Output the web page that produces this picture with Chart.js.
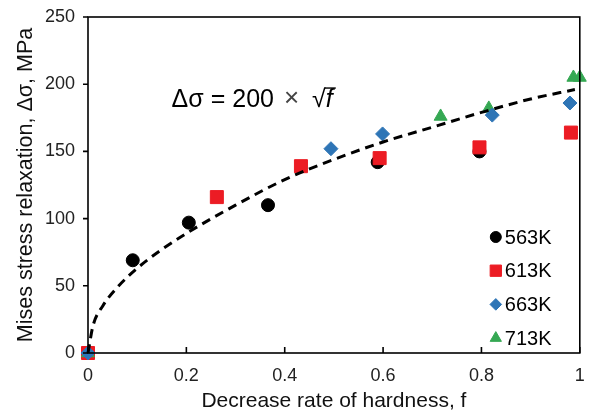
<!DOCTYPE html>
<html>
<head>
<meta charset="utf-8">
<script src="https://cdn.jsdelivr.net/npm/chart.js@4"></script>
<style>
  html, body { margin: 0; padding: 0; background: #fff; }
  #wrap { width: 590px; height: 414px; }
</style>
</head>
<body>
<div id="wrap"><canvas id="reliefChart" width="590" height="414"></canvas></div>
<script>
// values
const seriesLabels = ["563K", "613K", "663K", "713K"];

const f563 = [0, 0.091, 0.205, 0.366, 0.589, 0.796];
const s563 = [0, 69, 97, 110, 142, 150];

const f613 = [0, 0.262, 0.433, 0.593, 0.796, 0.982];
const s613 = [0, 116, 139, 145, 153, 164];

const f663 = [0, 0.494, 0.599, 0.822, 0.98];
const s663 = [0, 152, 163, 177, 186];

const f713 = [0, 0.717, 0.815, 0.987, 1.0];
const s713 = [0, 176, 182, 205, 205];

// dashed fitting curve, points picked along the drawn line
const fitF = [0, 0.01, 0.03, 0.06, 0.1, 0.15, 0.2, 0.3, 0.4, 0.5, 0.6, 0.7, 0.8, 0.9, 0.99];
const fitS = [0, 20, 35, 49, 63, 77, 89, 110, 129, 144, 157, 168, 179, 189, 196];

const xTicks = [0, 0.2, 0.4, 0.6, 0.8, 1];
const yTicks = [0, 50, 100, 150, 200, 250];

const FONT = "'Liberation Sans', Arial, 'Noto Sans', sans-serif";

const toPoints = (xs, ys) => xs.map((x, i) => ({ x: x, y: ys[i] }));

const markers = [
  { style: "circle", color: "#000000", radius: 6.5, legendRadius: 5.5 },
  { style: "rect", color: "#ec1c24", radius: 9.2, legendRadius: 8 },
  { style: "rectRot", color: "#2e75b6", radius: 7, legendRadius: 5.8 },
  { style: "triangle", color: "#35a853", radius: 7.5, legendRadius: 6.5 },
];

// box, inward x ticks, outward y ticks
const frame = {
  id: "frame",
  afterDraw(chart) {
    const { ctx, chartArea: a } = chart;
    const xs = chart.scales.x;
    const ys = chart.scales.y;
    ctx.save();
    ctx.strokeStyle = "#000";
    ctx.lineWidth = 1.6;
    ctx.strokeRect(a.left, a.top, a.right - a.left, a.bottom - a.top);
    ctx.beginPath();
    xTicks.forEach((v) => {
      const px = xs.getPixelForValue(v);
      ctx.moveTo(px, a.bottom);
      ctx.lineTo(px, a.bottom - 6);
    });
    yTicks.forEach((v) => {
      const py = ys.getPixelForValue(v);
      ctx.moveTo(a.left, py);
      ctx.lineTo(a.left - 5, py);
    });
    ctx.stroke();
    ctx.restore();
  },
};

// equation text and the small legend inside the plot
const notes = {
  id: "notes",
  afterDraw(chart) {
    const { ctx, chartArea: a } = chart;
    const xs = chart.scales.x;
    const ys = chart.scales.y;
    ctx.save();
    ctx.fillStyle = "#000";
    ctx.textBaseline = "alphabetic";
    ctx.textAlign = "left";

    let x = xs.getPixelForValue(0.17);
    const base = ys.getPixelForValue(183);
    ctx.font = "25px " + FONT;
    const head = "\u0394\u03c3 = 200";
    ctx.fillText(head, x, base);
    x += ctx.measureText(head).width + 10;
    ctx.fillStyle = "#444";
    ctx.font = "26px " + FONT;
    ctx.fillText("\u00d7", x, base - 1);
    x += ctx.measureText("\u00d7").width + 13;
    ctx.fillStyle = "#000";
    ctx.font = "25px " + FONT;
    ctx.fillText("\u221a", x, base);
    const rootW = ctx.measureText("\u221a").width;
    ctx.font = "italic 25px " + FONT;
    ctx.fillText("f", x + rootW, base);
    const fW = ctx.measureText("f").width;
    ctx.lineWidth = 1.4;
    ctx.strokeStyle = "#000";
    ctx.beginPath();
    ctx.moveTo(x + rootW - 1, base - 19);
    ctx.lineTo(x + rootW + fW + 3, base - 19);
    ctx.stroke();

    // legend
    const mx = a.right - 84;
    const top = a.bottom - 116;
    const Hp = Chart.helpers;
    ctx.font = "20px " + FONT;
    ctx.textBaseline = "middle";
    seriesLabels.forEach((label, i) => {
      const my = top + i * 33.7;
      const m = markers[i];
      ctx.fillStyle = m.color;
      ctx.strokeStyle = m.color;
      ctx.lineWidth = 1;
      Hp.drawPoint(ctx, { pointStyle: m.style, radius: m.legendRadius, borderWidth: 1 }, mx, my);
      ctx.fillStyle = "#000";
      ctx.fillText(label, mx + 9, my + 1);
    });
    ctx.restore();
  },
};

const pointSet = (i, xs, ys, order) => ({
  label: seriesLabels[i],
  data: toPoints(xs, ys),
  pointStyle: markers[i].style,
  pointRadius: markers[i].radius,
  pointHoverRadius: markers[i].radius,
  backgroundColor: markers[i].color,
  borderColor: markers[i].color,
  borderWidth: 1,
  showLine: false,
  clip: false,
  order: order,
});

const ctx = document.getElementById("reliefChart").getContext("2d");
new Chart(ctx, {
  type: "scatter",
  data: {
    datasets: [
      {
        label: "fit",
        data: toPoints(fitF, fitS),
        showLine: true,
        borderColor: "#000",
        borderWidth: 3,
        borderDash: [9, 6],
        pointRadius: 0,
        cubicInterpolationMode: "monotone",
        fill: false,
        clip: false,
        order: 0,
      },
      pointSet(0, f563, s563, 5),
      pointSet(1, f613, s613, 4),
      pointSet(2, f663, s663, 2),
      pointSet(3, f713, s713, 3),
    ],
  },
  options: {
    responsive: false,
    animation: false,
    events: [],
    layout: { padding: { top: 17, right: 8, left: 0, bottom: 0 } },
    plugins: {
      legend: { display: false },
      tooltip: { enabled: false },
    },
    scales: {
      x: {
        type: "linear",
        min: 0,
        max: 1,
        afterBuildTicks: (scale) => {
          scale.ticks = xTicks.map((v) => ({ value: v }));
        },
        afterFit: (scale) => {
          scale.height = 61;
          scale.paddingLeft = 0;
          scale.paddingRight = 0;
        },
        grid: { display: false, drawTicks: false },
        border: { display: false },
        ticks: {
          color: "#222",
          padding: 12,
          font: { family: FONT, size: 18 },
          maxRotation: 0,
          callback: (v) => String(v),
        },
        title: {
          display: true,
          text: "Decrease rate of hardness, f",
          color: "#111",
          font: { family: FONT, size: 21 },
          padding: { top: 0, bottom: 0 },
        },
      },
      y: {
        type: "linear",
        min: 0,
        max: 250,
        afterBuildTicks: (scale) => {
          scale.ticks = yTicks.map((v) => ({ value: v }));
        },
        afterFit: (scale) => {
          scale.width = 88;
          scale.paddingTop = 0;
          scale.paddingBottom = 0;
        },
        grid: { display: false, drawTicks: false },
        border: { display: false },
        ticks: {
          color: "#222",
          padding: 13,
          font: { family: FONT, size: 18 },
        },
        title: {
          display: true,
          text: "Mises stress relaxation, \u0394\u03c3, MPa",
          color: "#111",
          font: { family: FONT, size: 21.5 },
          padding: { top: 13, bottom: 0 },
        },
      },
    },
  },
  plugins: [frame, notes],
});
</script>
</body>
</html>
